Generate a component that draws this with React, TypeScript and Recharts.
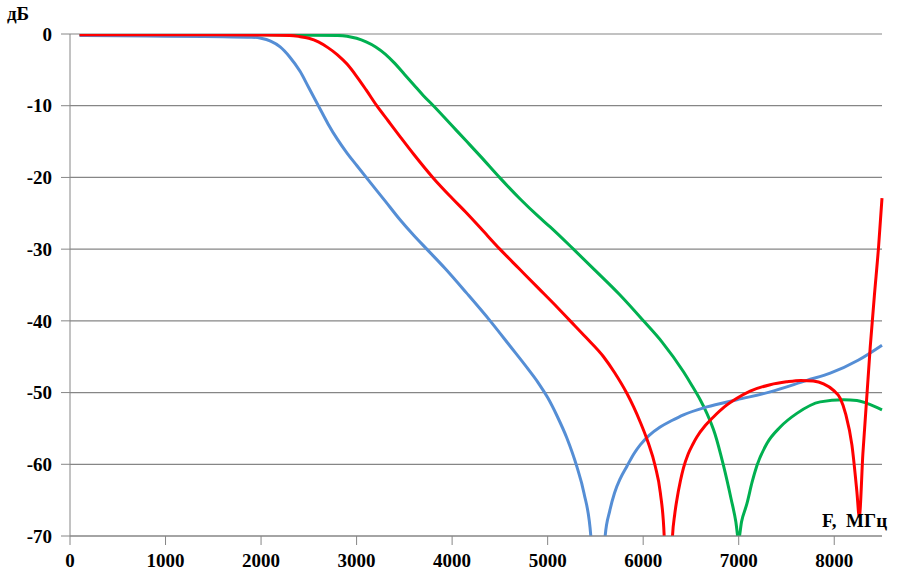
import { LineChart, Line, XAxis, YAxis, CartesianGrid } from "recharts";

// frequency (MHz) / level (dB)
const blueF = [100, 1000, 1600, 1900, 2000, 2100, 2200, 2300, 2408, 2500, 2600, 2700, 2800, 2900, 3000, 3107, 3300, 3455, 3600, 3735, 3927, 4150, 4398, 4600, 4800, 4900, 5000, 5100, 5200, 5305, 5380, 5452, 5527, 5602, 5650, 5700, 5760, 5829, 5900, 5969, 6060, 6178, 6300, 6422, 6667, 6981, 7330, 7714, 7958, 8250, 8500];
const blueDb = [-0.2, -0.3, -0.4, -0.45, -0.6, -1.0, -1.8, -3.2, -5.2, -7.5, -10.0, -12.5, -14.7, -16.6, -18.3, -20.1, -23.3, -25.9, -28.1, -30.0, -32.7, -36.1, -40.0, -43.4, -46.8, -48.6, -50.7, -53.3, -56.3, -60.3, -64.0, -70.0, -95, -70.0, -66.5, -64.0, -62.0, -60.3, -58.6, -57.3, -56.0, -54.8, -53.9, -53.1, -52.0, -51.0, -49.9, -48.3, -47.3, -45.5, -43.4];

const redF = [100, 1000, 2000, 2300, 2400, 2500, 2600, 2700, 2800, 2900, 3000, 3100, 3211, 3330, 3455, 3600, 3804, 4000, 4154, 4300, 4500, 4700, 4900, 5100, 5236, 5400, 5585, 5700, 5829, 5900, 5969, 6050, 6125, 6180, 6220, 6262, 6307, 6330, 6352, 6390, 6422, 6470, 6520, 6562, 6650, 6736, 6850, 6981, 7120, 7330, 7500, 7650, 7780, 7888, 7993, 8063, 8120, 8185, 8237, 8262, 8300, 8377, 8420, 8464, 8500];
const redDb = [-0.1, -0.1, -0.15, -0.2, -0.35, -0.6, -1.1, -1.9, -2.9, -4.2, -5.9, -7.8, -10.0, -12.1, -14.3, -16.8, -20.1, -22.9, -25.0, -27.1, -30.0, -32.7, -35.4, -38.1, -40.0, -42.3, -45.0, -47.2, -50.1, -52.0, -54.1, -56.9, -60.2, -64.0, -70.0, -90, -70.0, -67.0, -65.0, -62.3, -60.5, -58.6, -57.2, -56.2, -54.6, -53.4, -52.0, -50.8, -49.8, -48.9, -48.5, -48.3, -48.4, -48.8, -49.7, -50.8, -53.0, -57.3, -63.8, -67.3, -58.5, -43.6, -36.5, -29.7, -22.9];

const greenF = [100, 2000, 2800, 2900, 3000, 3100, 3200, 3300, 3400, 3500, 3600, 3700, 3804, 4000, 4154, 4300, 4503, 4712, 4900, 5026, 5270, 5500, 5750, 6003, 6200, 6422, 6510, 6597, 6667, 6750, 6841, 6920, 6970, 6998, 7030, 7086, 7140, 7190, 7295, 7435, 7609, 7853, 8097, 8237, 8342, 8500];
const greenDb = [-0.1, -0.1, -0.2, -0.3, -0.6, -1.1, -1.8, -2.8, -4.1, -5.6, -7.1, -8.6, -10.0, -12.8, -15.0, -17.1, -20.1, -23.0, -25.4, -26.9, -30.0, -33.0, -36.3, -40.0, -43.0, -47.1, -49.0, -51.0, -52.9, -55.7, -60.2, -64.8, -68.0, -70.5, -68.0, -65.5, -62.5, -60.2, -57.1, -54.8, -52.9, -51.3, -51.0, -51.1, -51.5, -52.4];

const xTicks = [0, 1000, 2000, 3000, 4000, 5000, 6000, 7000, 8000];
const yTicks = [-70, -60, -50, -40, -30, -20, -10, 0];

const toRows = (f: number[], db: number[]) => f.map((v, i) => ({ f: v, db: db[i] }));

const font = { fontFamily: "'Liberation Serif', 'Times New Roman', serif", fontWeight: 700, fontSize: 19, fill: "#000" };
const grey = "#868686";

export default function App() {
  return (
    <div style={{ position: "absolute", left: 0, top: 0, width: 906, height: 581, background: "#fff" }}>
      <LineChart width={906} height={581} margin={{ top: 34, right: 24, bottom: 0, left: 0 }}>
        <CartesianGrid vertical={false} stroke={grey} strokeWidth={1.2} />
        <XAxis
          type="number"
          dataKey="f"
          domain={[0, 8500]}
          ticks={xTicks}
          height={45}
          tickSize={9}
          tickMargin={9}
          stroke={grey}
          tick={font}
          interval={0}
        />
        <YAxis
          type="number"
          domain={[-70, 0]}
          ticks={yTicks}
          allowDataOverflow
          width={70}
          tickSize={9}
          tickMargin={9}
          stroke={grey}
          tick={font}
          interval={0}
        />
        <Line data={toRows(greenF, greenDb)} dataKey="db" type="monotone" stroke="#00B050" strokeWidth={3} dot={false} isAnimationActive={false} />
        <Line data={toRows(blueF, blueDb)} dataKey="db" type="monotone" stroke="#558ED5" strokeWidth={3} dot={false} isAnimationActive={false} />
        <Line data={toRows(redF, redDb)} dataKey="db" type="monotone" stroke="#FF0000" strokeWidth={3} dot={false} isAnimationActive={false} />
      </LineChart>
      <svg width={906} height={581} style={{ position: "absolute", left: 0, top: 0, pointerEvents: "none" }}>
        <text x={7} y={20} style={font}>дБ</text>
        <text x={822} y={527} style={font}>{"F,\u00a0 МГц"}</text>
      </svg>
    </div>
  );
}
